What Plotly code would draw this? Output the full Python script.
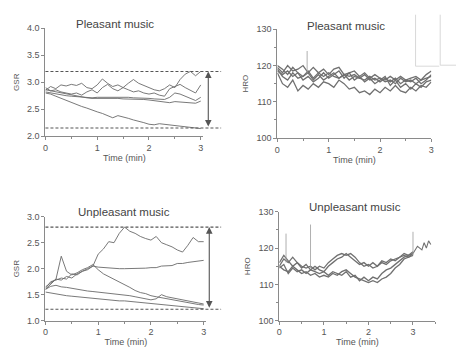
import plotly.graph_objects as go

W, H = 459, 347

# ---------------- data ----------------
t31 = [round(i * 0.1, 2) for i in range(31)]

gsr_pleasant = [
    [2.80,2.78,2.74,2.70,2.66,2.62,2.58,2.55,2.52,2.48,2.45,2.42,2.38,2.34,2.38,2.36,2.33,2.30,2.28,2.25,2.22,2.21,2.23,2.22,2.21,2.19,2.18,2.17,2.16,2.15,2.14],
    [2.85,2.92,2.88,2.95,2.93,2.96,2.94,2.98,2.90,2.88,2.95,3.06,2.98,2.92,2.95,2.90,2.98,3.05,2.98,2.94,2.90,2.86,2.84,2.88,2.95,2.90,3.05,3.15,3.20,3.12,3.20],
    [2.90,2.84,2.86,2.82,2.80,2.78,2.80,2.76,2.82,2.86,2.80,2.90,2.96,2.88,2.84,2.90,2.86,2.82,2.84,2.80,2.78,2.80,2.76,2.74,2.88,2.92,2.96,2.90,2.85,2.80,2.95],
    [2.82,2.80,2.78,2.76,2.75,2.74,2.73,2.72,2.72,2.71,2.72,2.72,2.72,2.73,2.72,2.72,2.72,2.71,2.71,2.70,2.70,2.69,2.68,2.68,2.72,2.80,2.78,2.74,2.70,2.66,2.72],
    [2.86,2.84,2.82,2.80,2.78,2.76,2.74,2.72,2.71,2.70,2.70,2.71,2.70,2.70,2.70,2.69,2.69,2.68,2.68,2.68,2.67,2.66,2.65,2.64,2.62,2.64,2.63,2.62,2.62,2.61,2.65],
]
gsr_pleasant_bounds = [3.2, 2.15]

gsr_unpleasant = [
    [1.65,1.72,1.80,1.78,1.85,1.82,1.90,1.95,1.98,2.05,2.28,2.38,2.52,2.50,2.68,2.80,2.72,2.68,2.62,2.58,2.55,2.62,2.50,2.46,2.42,2.36,2.32,2.45,2.60,2.52,2.52],
    [1.62,1.75,1.78,1.82,1.80,1.90,1.88,1.95,2.00,2.05,2.03,2.02,2.02,2.01,2.00,2.00,2.00,2.01,2.00,2.01,2.02,2.02,2.05,2.05,2.06,2.10,2.10,2.12,2.13,2.14,2.16],
    [1.60,1.70,1.80,2.24,1.95,1.88,1.92,1.98,2.02,2.08,1.98,1.90,1.85,1.80,1.74,1.70,1.64,1.58,1.54,1.52,1.48,1.46,1.44,1.42,1.40,1.38,1.37,1.35,1.33,1.31,1.30],
    [1.60,1.66,1.68,1.65,1.64,1.62,1.60,1.58,1.57,1.56,1.55,1.54,1.52,1.52,1.51,1.50,1.48,1.46,1.44,1.42,1.40,1.42,1.50,1.46,1.44,1.42,1.40,1.38,1.36,1.34,1.32],
    [1.55,1.53,1.51,1.50,1.48,1.47,1.46,1.44,1.43,1.42,1.42,1.41,1.40,1.39,1.38,1.38,1.37,1.36,1.35,1.34,1.33,1.32,1.31,1.30,1.29,1.28,1.27,1.26,1.25,1.24,1.23],
]
gsr_unpleasant_bounds = [2.8, 1.22]

hr_pleasant = [
    [119.5,118.0,120.0,118.5,119.0,120.0,118.0,119.5,118.0,119.0,117.5,119.0,119.5,117.5,118.0,118.5,117.0,118.0,116.5,117.5,116.5,116.0,117.0,116.0,117.0,116.0,116.5,117.0,116.0,117.5,118.5],
    [119.0,117.0,116.0,118.0,116.5,117.0,118.0,116.0,117.5,116.0,117.0,118.0,116.5,117.5,116.0,117.0,116.5,117.5,116.0,116.5,115.5,116.5,115.5,116.5,115.0,116.0,115.5,116.5,115.0,116.0,117.5],
    [118.0,115.0,114.0,116.0,113.0,114.5,113.5,115.0,114.0,115.5,115.0,114.0,116.0,115.0,113.5,114.0,112.5,113.0,112.0,113.5,112.5,114.0,113.0,114.5,113.0,112.5,114.0,113.0,114.5,114.0,115.5],
    [118.5,117.5,118.5,117.0,118.0,117.0,118.5,116.5,118.0,117.0,118.0,117.0,116.5,117.5,117.0,117.5,116.5,116.0,117.0,116.0,116.5,115.5,116.0,115.0,116.5,115.5,116.0,115.0,116.0,116.5,117.0],
    [120.0,119.0,117.5,119.5,118.0,116.0,117.0,115.5,116.5,118.0,116.5,117.5,118.5,116.5,118.0,116.0,117.0,115.5,116.5,115.0,116.0,117.0,114.5,116.0,114.0,115.0,113.5,115.0,114.0,115.5,116.0],
]
hr_pleasant_spike_t = [0.58]
hr_pleasant_spike_peak = [124.0]
hr_pleasant_spike_base = [118.0]

hr_unpleasant = [
    [115.0,117.0,116.0,117.5,116.0,115.0,114.5,115.0,114.0,115.0,114.5,116.0,117.0,118.0,118.5,118.0,118.5,117.5,116.0,115.0,115.5,114.5,115.0,116.0,115.5,116.5,117.0,117.5,118.0,117.5,118.5],
    [115.0,114.0,113.5,115.0,114.0,113.0,113.5,112.5,113.0,112.0,112.5,112.0,113.0,112.5,113.5,114.0,113.0,112.0,111.5,111.0,110.5,111.0,110.5,111.5,112.0,113.0,114.5,115.5,117.0,117.5,118.0],
    [116.0,118.0,116.5,115.0,116.0,114.5,115.5,114.0,115.0,114.0,113.5,115.0,116.0,117.0,117.5,118.5,117.5,116.5,115.5,116.0,115.0,116.0,115.0,116.5,116.0,117.0,116.5,117.5,118.5,118.0,119.0],
    [114.5,115.5,113.0,114.5,113.5,114.0,113.0,114.0,113.5,113.0,113.5,112.5,113.5,113.0,112.5,113.5,112.0,112.5,111.0,112.0,111.0,112.0,111.5,113.0,114.0,114.5,115.5,116.5,117.5,118.0,118.5],
]
hr_unpleasant_tail_t = [3.0, 3.1, 3.2, 3.25, 3.3, 3.35, 3.4]
hr_unpleasant_tail = [118.5, 120.5, 119.5, 121.5, 120.0, 122.0, 121.0]
hr_unpleasant_spike_t = [0.15, 0.7, 3.0]
hr_unpleasant_spike_peak = [124.0, 126.5, 124.5]
hr_unpleasant_spike_base = [116.0, 114.5, 118.0]

titles = ["Pleasant music", "Pleasant music", "Unpleasant music", "Unpleasant music"]
x_title = "Time (min)"
y_titles = ["GSR", "HRO", "GSR", "HRO"]

# ---------------- figure ----------------
fig = go.Figure()
LC = "#6a6a6a"

def add_lines(series, t, xa, ya, color=LC, width=1.0):
    for s in series:
        fig.add_trace(go.Scatter(x=t, y=s, mode="lines", xaxis=xa, yaxis=ya,
                                 line=dict(color=color, width=width), showlegend=False,
                                 hoverinfo="skip"))

def add_spikes(ts, bases, peaks, xa, ya):
    xs, ys = [], []
    for tt, b, p in zip(ts, bases, peaks):
        xs += [tt, tt, None]
        ys += [b, p, None]
    fig.add_trace(go.Scatter(x=xs, y=ys, mode="lines", xaxis=xa, yaxis=ya,
                             line=dict(color="#9a9a9a", width=0.8), showlegend=False,
                             hoverinfo="skip"))

add_lines(gsr_pleasant, t31, "x", "y", width=0.9)
add_lines(gsr_unpleasant, t31, "x3", "y3", width=0.9)
add_lines(hr_pleasant, t31, "x2", "y2", color="#707070", width=1.3)
add_spikes(hr_pleasant_spike_t, hr_pleasant_spike_base, hr_pleasant_spike_peak, "x2", "y2")
add_lines(hr_unpleasant, t31, "x4", "y4", color="#707070", width=1.3)
add_lines([hr_unpleasant_tail], hr_unpleasant_tail_t, "x4", "y4", color="#707070", width=1.1)
add_spikes(hr_unpleasant_spike_t, hr_unpleasant_spike_base, hr_unpleasant_spike_peak, "x4", "y4")

def px2x(p):
    return p / W

def px2y(p):
    return 1 - p / H

tickfont = dict(family="Liberation Sans, Arial", size=9, color="#555")
axcommon = dict(showline=True, linecolor="#8a8a8a", linewidth=1, ticks="outside",
                ticklen=3, tickcolor="#8a8a8a", showgrid=False, zeroline=False,
                tickfont=tickfont)
xtitle = dict(text=x_title, font=dict(family="Liberation Sans, Arial", size=9, color="#555"),
              standoff=2)

def ytitle(t):
    return dict(text=t, font=dict(family="Liberation Sans, Arial", size=8, color="#555"),
                standoff=6)

lay = dict(
    width=W, height=H, margin=dict(l=0, r=0, t=0, b=0),
    paper_bgcolor="white", plot_bgcolor="white",
    xaxis=dict(domain=[px2x(43), px2x(203)], range=[0, 3.05], dtick=1, anchor="y",
               minor=dict(ticks="outside", dtick=0.5, ticklen=2, tickcolor="#8a8a8a"),
               title=xtitle, **axcommon),
    yaxis=dict(domain=[px2y(135), px2y(24)], range=[2.0, 4.0], dtick=0.5, tickformat=".1f",
               anchor="x", title=ytitle(y_titles[0]), **axcommon),
    xaxis2=dict(domain=[px2x(278), px2x(434)], range=[0, 3], dtick=1, anchor="y2",
                minor=dict(ticks="outside", dtick=0.5, ticklen=2, tickcolor="#8a8a8a"),
                title=xtitle, **axcommon),
    yaxis2=dict(domain=[px2y(137), px2y(25)], range=[100, 130], dtick=10, anchor="x2",
                minor=dict(ticks="outside", dtick=5, ticklen=2, tickcolor="#8a8a8a"),
                title=ytitle(y_titles[1]), **axcommon),
    xaxis3=dict(domain=[px2x(43), px2x(206)], range=[0, 3.05], dtick=1, anchor="y3",
                minor=dict(ticks="outside", dtick=0.5, ticklen=2, tickcolor="#8a8a8a"),
                title=xtitle, **axcommon),
    yaxis3=dict(domain=[px2y(325), px2y(218)], range=[1.0, 3.0], dtick=0.5, tickformat=".1f",
                anchor="x3", title=ytitle(y_titles[2]), **axcommon),
    xaxis4=dict(domain=[px2x(280), px2x(438)], range=[0, 3.5], dtick=1, anchor="y4",
                minor=dict(ticks="outside", dtick=0.5, ticklen=2, tickcolor="#8a8a8a"),
                title=xtitle, **axcommon),
    yaxis4=dict(domain=[px2y(325), px2y(213)], range=[100, 130], dtick=10, anchor="x4",
                minor=dict(ticks="outside", dtick=5, ticklen=2, tickcolor="#8a8a8a"),
                title=ytitle(y_titles[3]), **axcommon),
)
fig.update_layout(**lay)

# dashed bound lines + double arrows
shapes = []
annots = []
for (bounds, ya, arrow_px) in [(gsr_pleasant_bounds, "y", 208), (gsr_unpleasant_bounds, "y3", 209)]:
    for b in bounds:
        shapes.append(dict(type="line", xref="paper", yref=ya, x0=px2x(43), x1=px2x(221),
                           y0=b, y1=b, line=dict(color="#555", width=1.1, dash="3px,2px")))
    annots.append(dict(x=px2x(arrow_px), y=bounds[0], ax=0, ay=bounds[1], xref="paper", yref=ya,
                       axref="pixel", ayref=ya, text="", showarrow=True, arrowhead=2,
                       startarrowhead=2, arrowside="end+start", arrowsize=1.2,
                       arrowwidth=1.1, arrowcolor="#555"))

# faint frame artifacts at top right
for (x0, y0, x1, y1) in [(418, 10, 418, 63), (418, 63, 442, 63), (443, 10, 443, 62), (443, 62, 459, 62)]:
    shapes.append(dict(type="line", xref="paper", yref="paper", x0=px2x(x0), x1=px2x(x1),
                       y0=px2y(y0), y1=px2y(y1), line=dict(color="#cfcfcf", width=0.8)))

title_pos = [(113, 20), (348, 22), (123, 213), (357, 208)]
for txt, (cx, cy) in zip(titles, title_pos):
    annots.append(dict(x=px2x(cx), y=px2y(cy), xref="paper", yref="paper", text=txt,
                       showarrow=False, xanchor="center", yanchor="middle",
                       font=dict(family="Liberation Sans, Arial", size=11.5, color="#444")))

fig.update_layout(shapes=shapes, annotations=annots)
fig.write_html("out.html")
